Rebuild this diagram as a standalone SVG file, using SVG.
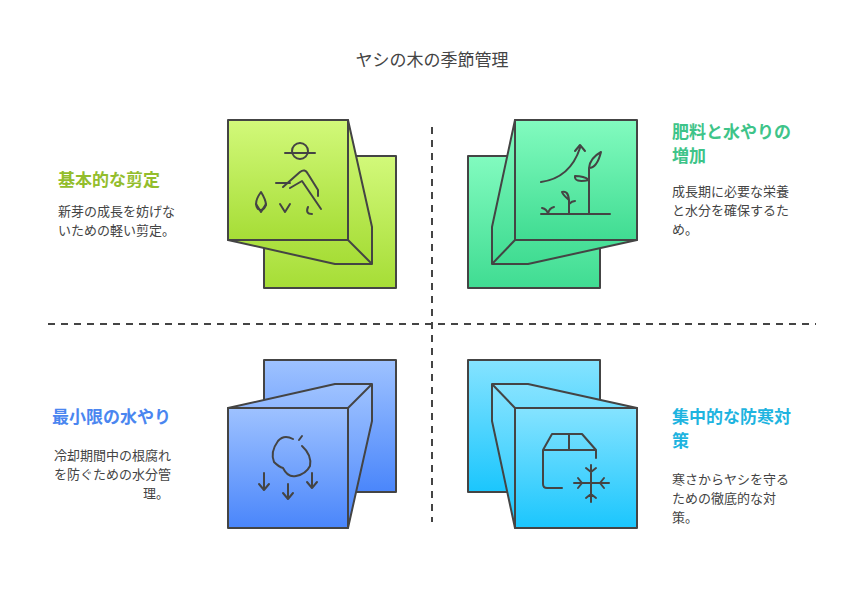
<svg xmlns="http://www.w3.org/2000/svg" width="864" height="600" viewBox="0 0 864 600">
<defs>
<linearGradient id="g1" x1="0" y1="0" x2="0" y2="1"><stop offset="0" stop-color="#d2f97a"/><stop offset="1" stop-color="#a6dd36"/></linearGradient>
<linearGradient id="g2" x1="0" y1="0" x2="0" y2="1"><stop offset="0" stop-color="#82fbbf"/><stop offset="1" stop-color="#40dc92"/></linearGradient>
<linearGradient id="g3" x1="0" y1="0" x2="0" y2="1"><stop offset="0" stop-color="#9ec2ff"/><stop offset="1" stop-color="#4a86fb"/></linearGradient>
<linearGradient id="g4" x1="0" y1="0" x2="0" y2="1"><stop offset="0" stop-color="#85e3ff"/><stop offset="1" stop-color="#1bc6fd"/></linearGradient>
</defs>
<style>
.s{stroke:#444;stroke-width:2;stroke-linejoin:round}
.i{fill:none;stroke:#444;stroke-width:2;stroke-linecap:round;stroke-linejoin:round}
.t{font-family:"Noto Sans CJK JP","Noto Sans",sans-serif}
.h{font-size:17px;font-weight:bold}
.d{font-size:13px;fill:#444}
</style>
<text class="t" x="432" y="66" text-anchor="middle" font-size="17" fill="#444">ヤシの木の季節管理</text>
<g id="connectors"><line x1="432" y1="127" x2="432" y2="522" stroke="#444" stroke-width="2" stroke-dasharray="7,6"/><line x1="48" y1="324" x2="816" y2="324" stroke="#444" stroke-width="2" stroke-dasharray="7,6"/></g>
<g id="n1">
<rect class="s" x="264" y="156" width="132" height="132" fill="url(#g1)"/>
<path class="s" fill="url(#g1)" d="M348 120 L372 227 L372 264 L335 264 L228 240 Z"/>
<rect class="s" x="228" y="120" width="120" height="120" fill="url(#g1)"/>
<line class="s" x1="348" y1="240" x2="372" y2="264"/>
<g class="i"><path d="M285 153 H315"/><circle cx="300" cy="151" r="8"/><path d="M276 183 H290 M283 187 L300 172 Q305 168 308 174 L318 190 V196 M290 188 L302 181 L321 209 M308 207 Q305 214 312 214"/><path d="M261 192 Q253 203 258 209 Q263 212 266 205 Q266 200 261 192Z"/><path d="M256 204 L261 212 L266 204" transform="translate(0,0)"/><path d="M256 204 L261 212 L266 204" transform="translate(24,0)"/></g>
</g>
<g id="n2">
<rect class="s" x="468" y="156" width="132" height="132" fill="url(#g2)"/>
<path class="s" fill="url(#g2)" d="M515 120 L492 227 L492 264 L528 264 L637 240 Z"/>
<rect class="s" x="515" y="120" width="122" height="120" fill="url(#g2)"/>
<line class="s" x1="515" y1="240" x2="492" y2="264"/>
<g class="i"><path d="M541 214 H610"/><path d="M541 182 Q570 178 580 148 M575 151 L580 145 L585 151"/><path d="M589 214 V168 M589 168 Q590 158 601 152 Q597 168 589 168Z M589 180 Q584 176 575 176 Q574 183 589 180Z M569 214 V200 Q563 195 562 192 Q568 190 569 200 M569 204 Q572 201 575 201 M548 214 Q549 208 554 207 M548 214 Q547 209 542 208"/></g>
</g>
<g id="n3">
<rect class="s" x="264" y="360" width="132" height="132" fill="url(#g3)"/>
<path class="s" fill="url(#g3)" d="M228 408 L335 384 L372 384 L372 421 L348 528 Z"/>
<rect class="s" x="228" y="408" width="120" height="120" fill="url(#g3)"/>
<line class="s" x1="348" y1="408" x2="372" y2="384"/>
<g class="i"><path d="M293 439 Q284 434 278 441 Q270 452 274 462 Q279 467 283 468 Q288 478 296 476 Q306 474 310 466 Q312 455 302 446 M299 440 L302 436"/><path d="M264 473 V490 M259 484 L264 490 L269 484 M288 484 V499 M283 493 L288 499 L293 493 M312 473 V488 M307 482 L312 488 L317 482"/></g>
</g>
<g id="n4">
<rect class="s" x="468" y="360" width="132" height="132" fill="url(#g4)"/>
<path class="s" fill="url(#g4)" d="M637 408 L528 384 L492 384 L492 421 L515 528 Z"/>
<rect class="s" x="515" y="408" width="122" height="120" fill="url(#g4)"/>
<line class="s" x1="515" y1="408" x2="492" y2="384"/>
<g class="i"><path d="M562 488 H547 Q543 488 543 484 V450 L552 434 H582 L596 450 V458 M543 450 H596 M569 434 V450"/><path d="M591 465 V502 M574 483 H609 M586 468 L591 472 L596 468 M586 498 L591 494 L596 498 M578 478 L582 483 L578 488 M604 478 L600 483 L604 488"/></g>
</g>
<g id="t1" class="t"><text class="h" x="58" y="186" fill="#93bd2c">基本的な剪定</text><text class="d" x="58" y="216">新芽の成長を妨げな</text><text class="d" x="58" y="235">いための軽い剪定。</text></g>
<g id="t2" class="t"><text class="h" x="672" y="138" fill="#3ec489">肥料と水やりの</text><text class="h" x="672" y="162" fill="#3ec489">増加</text><text class="d" x="672" y="196">成長期に必要な栄養</text><text class="d" x="672" y="215">と水分を確保するた</text><text class="d" x="672" y="234">め。</text></g>
<g id="t3" class="t"><text class="h" x="52" y="423" fill="#4a86f0">最小限の水やり</text><text class="d" x="54" y="460">冷却期間中の根腐れ</text><text class="d" x="54" y="479">を防ぐための水分管</text><text class="d" x="156" y="498" text-anchor="middle">理。</text></g>
<g id="t4" class="t"><text class="h" x="672" y="423" fill="#1eb4e0">集中的な防寒対</text><text class="h" x="672" y="447" fill="#1eb4e0">策</text><text class="d" x="672" y="484">寒さからヤシを守る</text><text class="d" x="672" y="503">ための徹底的な対</text><text class="d" x="672" y="522">策。</text></g>
</svg>
